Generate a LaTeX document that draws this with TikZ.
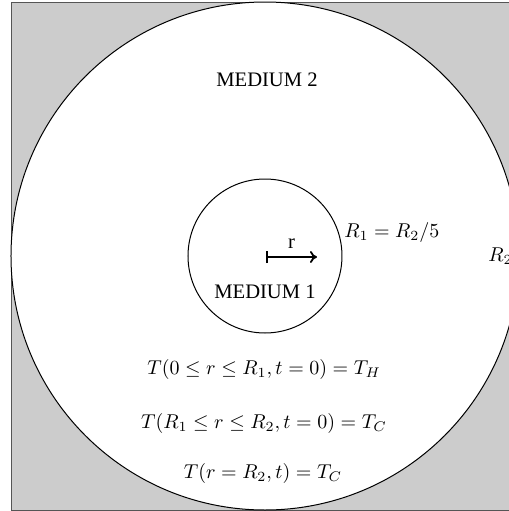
\documentclass[tikz,border=0pt]{standalone}
\usepackage{fontspec}
\setmainfont{Liberation Serif}
\usetikzlibrary{arrows.meta}
\definecolor{cshade}{HTML}{CCCCCC}
\definecolor{cedge}{HTML}{555555}
\tikzset{
  every picture/.style={x=0.5pt, y=0.5pt, line width=0.4pt},
  medium/.style={circle, draw=black, fill=white, inner sep=0pt, line width=0.5pt},
  txt/.style={inner sep=1pt, font=\fontsize{10.3pt}{12pt}\selectfont},
  rarrow/.style={{Bar[width=6pt]}-{To[length=3.5pt, width=6pt]}, line width=0.9pt},
}

\begin{document}
\begin{tikzpicture}
  \useasboundingbox (-265,-255) rectangle (244,256);
  \clip (-265,-255) rectangle (244,256);
  % outer box and the two media
  \fill[cshade, draw=cedge] (-254,-254) rectangle (254,254);
  \node[medium, minimum size=254pt] (outer) at (0,0) {};
  \node[medium, minimum size=77pt] (inner) at (0,0) {};
  \node[txt] (m2) at (2,176) {MEDIUM 2};
  \node[txt] (m1) at (0,-36) {MEDIUM 1};
  % radius
  \coordinate (r0) at (1,-1);
  \coordinate (r1) at (52,-1);
  \draw[rarrow] (r0) -- node[txt, above=3pt] {r} (r1);
  \node[txt, anchor=west] (rad1) at (77,24) {$R_1 = R_2/5$};
  \node[txt, anchor=west] (rad2) at (221,0) {$R_2$};
  % initial and boundary conditions
  \node[txt] (ic1) at (-1,-113) {$T(0 \leq r \leq R_1, t=0) = T_H$};
  \node[txt] (ic2) at (-1,-167) {$T(R_1 \leq r \leq R_2, t=0) = T_C$};
  \node[txt] (bc) at (-2,-217) {$T(r=R_2, t) = T_C$};
\end{tikzpicture}
\end{document}
